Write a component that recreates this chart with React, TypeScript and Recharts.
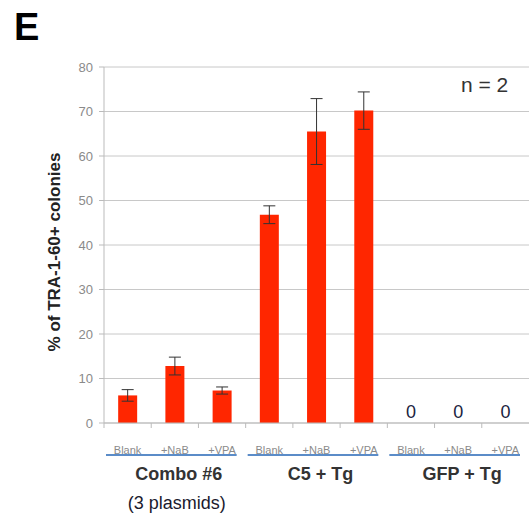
import { BarChart, Bar, XAxis, YAxis, CartesianGrid, ErrorBar } from "recharts";

const categories = ["Blank", "+NaB", "+VPA", "Blank", "+NaB", "+VPA", "Blank", "+NaB", "+VPA"];
const groups = ["Combo #6", "C5 + Tg", "GFP + Tg"];
const groupNotes = ["(3 plasmids)", "", ""];
const values = [6.2, 12.8, 7.3, 46.8, 65.5, 70.2, 0, 0, 0];
const errors = [1.3, 2.0, 0.8, 2.0, 7.4, 4.2, null, null, null];
const yTicks = [0, 10, 20, 30, 40, 50, 60, 70, 80];

const data = categories.map((c, i) => ({ name: c, value: values[i], err: errors[i] }));

const W = 529;
const H = 513;
const M = { top: 67, right: 0, bottom: 0, left: 34 };
const Y_W = 70;
const band = (W - M.left - Y_W - M.right) / categories.length;
const FONT = "'Liberation Sans', Arial, sans-serif";

// category label, group underline, group name and the "0" labels for empty bars
function CatTick(props: any) {
  const { x, y, payload, index } = props;
  const left = x - band / 2;
  const g = Math.floor(index / 3);
  return (
    <g>
      <line x1={left} x2={left} y1={y} y2={y + 5} stroke="#bbb" />
      {values[index] === 0 && (
        <text x={x} y={y - 5} textAnchor="middle" fontSize={18} fill="#1a2340" fontFamily={FONT}>
          0
        </text>
      )}
      <text x={x} y={y + 31} textAnchor="middle" fontSize={11} fill="#8a8a8a" fontFamily={FONT}>
        {payload.value}
      </text>
      {index % 3 === 0 && (
        <line x1={left + 2} x2={left + 3 * band - 9} y1={y + 32} y2={y + 32} stroke="#5b8cc8" strokeWidth={2} />
      )}
      {index % 3 === 1 && (
        <text x={x + 4} y={y + 57} textAnchor="middle" fontSize={18} fontWeight="bold" fill="#333" fontFamily={FONT}>
          {groups[g]}
        </text>
      )}
      {index % 3 === 1 && groupNotes[g] && (
        <text x={x + 2} y={y + 86} textAnchor="middle" fontSize={18} fill="#1a1a2e" fontFamily={FONT}>
          {groupNotes[g]}
        </text>
      )}
    </g>
  );
}

function YLabel(props: any) {
  const { viewBox } = props;
  const cx = viewBox.x + 20;
  const cy = viewBox.y + viewBox.height / 2 + 7;
  return (
    <text x={cx} y={cy} transform={`rotate(-90 ${cx} ${cy})`} textAnchor="middle" dominantBaseline="central" fontSize={17} fontWeight="bold" fill="#222" fontFamily={FONT}>
      % of TRA-1-60+ colonies
    </text>
  );
}

export default function App() {
  return (
    <div style={{ position: "absolute", left: 0, top: 0, width: W, height: H, background: "#fff", overflow: "hidden" }}>
      <div style={{ position: "absolute", left: 14, top: 6, fontFamily: FONT, fontWeight: "bold", fontSize: 38, color: "#000" }}>E</div>
      <div style={{ position: "absolute", left: 461, top: 73, fontFamily: FONT, fontSize: 21, color: "#333" }}>n = 2</div>
      <BarChart width={W} height={H} data={data} margin={M} barCategoryGap="30%">
        <CartesianGrid vertical={false} stroke="#c8c8c8" />
        <XAxis
          dataKey="name"
          interval={0}
          height={H - 423}
          tickLine={false}
          tickSize={0}
          tickMargin={0}
          axisLine={{ stroke: "#bbb" }}
          tick={<CatTick />}
        />
        <YAxis
          width={Y_W}
          domain={[0, 80]}
          ticks={yTicks}
          interval={0}
          tickSize={5}
          tickMargin={6}
          tick={{ fill: "#8a8a8a", fontSize: 13, fontFamily: FONT }}
          axisLine={{ stroke: "#bbb" }}
          tickLine={{ stroke: "#bbb" }}
          label={<YLabel />}
        />
        <Bar dataKey="value" fill="#ff2600" isAnimationActive={false}>
          <ErrorBar dataKey="err" width={6} stroke="#333" strokeWidth={1} />
        </Bar>
      </BarChart>
    </div>
  );
}
